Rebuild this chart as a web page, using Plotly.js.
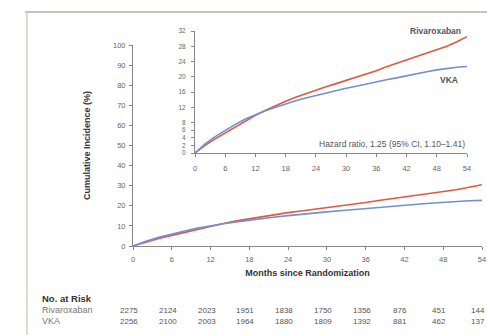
<!DOCTYPE html>
<html>
<head>
<meta charset="utf-8">
<script src="https://cdn.plot.ly/plotly-3.0.1.min.js"></script>
<style>html,body{margin:0;padding:0;background:#fff;}#chart{width:487px;height:335px;}</style>
</head>
<body>
<div id="chart"></div>
<script>
// ---- data ----
const months = [0,2,4,6,8,10,12,14,16,18,20,22,24,26,28,30,32,34,36,38,40,42,44,46,48,50,52,54];
const rivaroxaban = [0,2.0,3.7,5.3,6.8,8.4,9.9,11.2,12.5,13.6,14.6,15.6,16.6,17.4,18.2,19.0,19.8,20.6,21.6,22.6,23.5,24.3,25.2,26.1,27.0,28.0,29.2,30.5];
const vka = [0,2.4,4.3,6.0,7.5,8.9,10.1,11.1,12.0,12.9,13.7,14.4,15.1,15.8,16.4,17.0,17.5,18.1,18.6,19.2,19.7,20.3,20.8,21.3,21.8,22.2,22.5,22.7];
const xTicks = [0,6,12,18,24,30,36,42,48,54];
const mainYTicks = [0,10,20,30,40,50,60,70,80,90,100];
const insetYTicks = [0,2,4,6,8,12,16,20,24,28,32];
const riskMonths = [0,6,12,18,24,30,36,42,48,54];
const riskRivaroxaban = ["2275","2124","2023","1951","1838","1750","1356","876","451","144"];
const riskVKA = ["2256","2100","2003","1964","1880","1809","1392","881","462","137"];

const W = 487, H = 335;
const px = x => x / W, py = y => (H - y) / H;
const RED = '#dd5a3e', BLUE = '#7090d0';
const FONT = 'Liberation Sans, Arial, sans-serif';
const tickFont = {family: FONT, size: 7.5, color: '#666'};

const traces = [
  {x: months, y: rivaroxaban, xaxis: 'x', yaxis: 'y', mode: 'lines', line: {color: RED, width: 1.6}, name: 'Rivaroxaban'},
  {x: months, y: vka, xaxis: 'x', yaxis: 'y', mode: 'lines', line: {color: BLUE, width: 1.6}, name: 'VKA'},
  {x: months, y: rivaroxaban, xaxis: 'x2', yaxis: 'y2', mode: 'lines', line: {color: RED, width: 1.6}, name: 'Rivaroxaban'},
  {x: months, y: vka, xaxis: 'x2', yaxis: 'y2', mode: 'lines', line: {color: BLUE, width: 1.6}, name: 'VKA'}
];

const axisCommon = {
  showgrid: false, zeroline: false, showline: true, linecolor: '#888', linewidth: 1,
  ticks: 'outside', ticklen: 3, tickcolor: '#888', tickfont: tickFont, fixedrange: true
};

const annotations = [
  {text: 'Hazard ratio, 1.25 (95% CI, 1.10–1.41)', x: px(467), y: py(144), xref: 'paper', yref: 'paper',
   xanchor: 'right', yanchor: 'middle', showarrow: false, font: {family: FONT, size: 8.5, color: '#555'}},
  {text: '<b>Rivaroxaban</b>', x: px(463), y: py(31), xref: 'paper', yref: 'paper',
   xanchor: 'right', yanchor: 'middle', showarrow: false, font: {family: FONT, size: 8.5, color: '#555'}},
  {text: '<b>VKA</b>', x: px(460), y: py(80), xref: 'paper', yref: 'paper',
   xanchor: 'right', yanchor: 'middle', showarrow: false, font: {family: FONT, size: 8.5, color: '#555'}},
  {text: '<b>No. at Risk</b>', x: px(40), y: py(298), xref: 'paper', yref: 'paper',
   xanchor: 'left', yanchor: 'middle', showarrow: false, font: {family: FONT, size: 9.5, color: '#333'}},
  {text: 'Rivaroxaban', x: px(40), y: py(310), xref: 'paper', yref: 'paper',
   xanchor: 'left', yanchor: 'middle', showarrow: false, font: {family: FONT, size: 9, color: '#777'}},
  {text: 'VKA', x: px(40), y: py(321), xref: 'paper', yref: 'paper',
   xanchor: 'left', yanchor: 'middle', showarrow: false, font: {family: FONT, size: 9, color: '#777'}}
];
riskMonths.forEach((m, i) => {
  annotations.push({text: riskRivaroxaban[i], x: m, y: py(310), xref: 'x', yref: 'paper', xshift: -4,
    xanchor: 'center', yanchor: 'middle', showarrow: false, font: {family: FONT, size: 8, color: '#555'}});
  annotations.push({text: riskVKA[i], x: m, y: py(321), xref: 'x', yref: 'paper', xshift: -4,
    xanchor: 'center', yanchor: 'middle', showarrow: false, font: {family: FONT, size: 8, color: '#555'}});
});

const layout = {
  width: W, height: H,
  margin: {l: 0, r: 0, t: 0, b: 0},
  paper_bgcolor: '#fff', plot_bgcolor: 'rgba(0,0,0,0)',
  showlegend: false,
  xaxis: Object.assign({}, axisCommon, {
    domain: [px(133), px(482)], range: [0, 54], tickvals: xTicks, ticktext: xTicks.map(String),
    anchor: 'y', ticklabelstandoff: 3,
    title: {text: '<b>Months since Randomization</b>', font: {family: FONT, size: 9, color: '#333'}, standoff: 6}
  }),
  yaxis: Object.assign({}, axisCommon, {
    domain: [py(246), py(45)], range: [0, 100], tickvals: mainYTicks, ticktext: mainYTicks.map(String),
    anchor: 'x', ticklabelstandoff: 2,
    title: {text: '<b>Cumulative Incidence (%)</b>', font: {family: FONT, size: 9, color: '#333'}, standoff: 20}
  }),
  xaxis2: Object.assign({}, axisCommon, {
    domain: [px(195), px(467)], range: [0, 54], tickvals: xTicks, ticktext: xTicks.map(String),
    anchor: 'y2', ticklabelstandoff: 5
  }),
  yaxis2: Object.assign({}, axisCommon, {
    domain: [py(153), py(31)], range: [0, 32], tickvals: insetYTicks, ticktext: insetYTicks.map(String),
    anchor: 'x2', ticklabelstandoff: 4, tickfont: {family: FONT, size: 6.5, color: '#666'}
  }),
  annotations: annotations,
  shapes: [
    {type: 'line', xref: 'paper', yref: 'paper', x0: px(25), x1: 1, y0: py(12), y1: py(12), line: {color: '#b8aea6', width: 1.5}},
    {type: 'line', xref: 'paper', yref: 'paper', x0: px(27), x1: px(27), y0: py(12), y1: 0, line: {color: '#ccc4bd', width: 1.2}}
  ]
};

Plotly.newPlot('chart', traces, layout, {displayModeBar: false, staticPlot: true});
</script>
</body>
</html>
